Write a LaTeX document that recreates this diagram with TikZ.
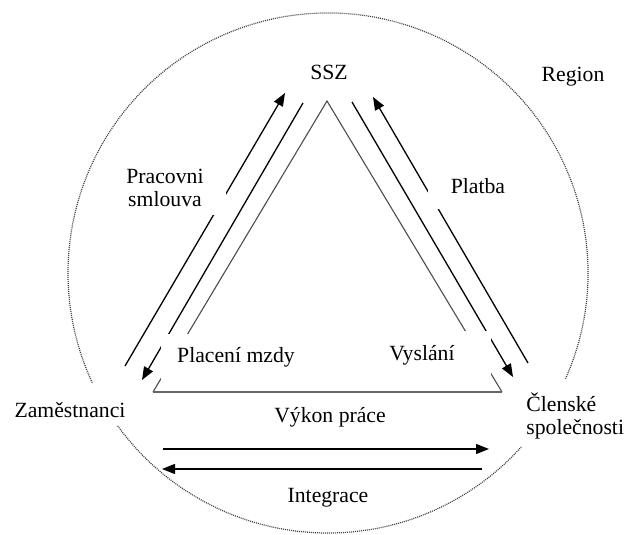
\documentclass[tikz,border=0pt]{standalone}
\usepackage{fontspec}
\setmainfont{Liberation Serif}
\usetikzlibrary{arrows.meta}

\begin{document}
\begin{tikzpicture}[x=0.5pt,y=-0.5pt,
    font=\fontsize{10.85}{11.5}\selectfont,
    side/.style={draw=black!70, line width=0.55pt},
    flow/.style={draw=black, line width=0.65pt, -{Triangle[length=6.5pt,width=5pt]}},
    box/.style={fill=white, inner sep=0pt, align=center}]
    \useasboundingbox (0,0) rectangle (627,535);
    %% Region
    \draw[black!75, line width=0.6pt, dash pattern=on 0.5pt off 0.5pt]
    (328,273) ++(24:260) arc[start angle=24, end angle=-205, radius=260]
    (328,273) ++(144:260) arc[start angle=144, end angle=42, radius=260]
    ;
    %% Triangle
    \coordinate (top) at (327,101);
    \coordinate (bl) at (153,392);
    \coordinate (br) at (502,392);
    \draw[side] (bl) -- (top) -- (br);
    \draw[draw=black!60, line width=0.9pt] (bl) -- (br);
    %% Flows
    \coordinate (s1) at (125,366); \coordinate (s2) at (285,93);
    \coordinate (m1) at (303,103); \coordinate (m2) at (142,380);
    \coordinate (v1) at (352,102); \coordinate (v2) at (513,377);
    \coordinate (p1) at (528,363); \coordinate (p2) at (373,97);
    \coordinate (k1) at (163,449); \coordinate (k2) at (489,449);
    \coordinate (i1) at (482,469); \coordinate (i2) at (162,469);
    \foreach \A/\B in {s1/s2,m1/m2,v1/v2,p1/p2,k1/k2,i1/i2}
    {
    \draw[flow] (\A) -- (\B);
    }
    %% Labels
    \node[box, minimum width=61pt, minimum height=27pt] (smlouva) at (165,188) {Pracovni\\smlouva};
    \node[box, minimum width=50pt, minimum height=23pt] (platba) at (478,186) {Platba};
    \node[box, minimum width=75pt, minimum height=23pt] (mzda) at (236,357) {Placení mzdy};
    \node[box, minimum width=69pt, minimum height=24pt] (vyslani) at (422,355) {Vyslání};
    \node (ssz) at (329,72) {SSZ};
    \node (region) at (573,77) {Region};
    \node (zam) at (70,410) {Zaměstnanci};
    \node[anchor=west, inner sep=0pt, align=left] (clen) at (526,416) {Členské\\společnosti};
    \node (vykon) at (330,417) {Výkon práce};
    \node (integrace) at (328,498) {Integrace};
\end{tikzpicture}
\end{document}
